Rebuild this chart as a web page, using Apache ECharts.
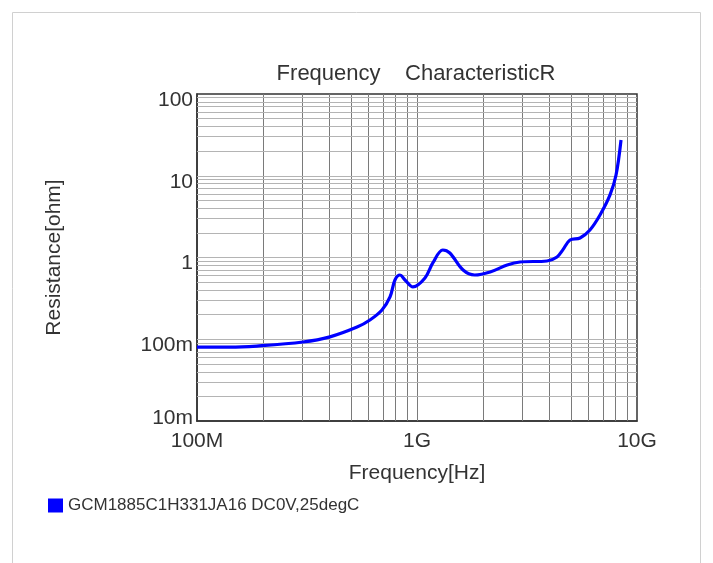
<!DOCTYPE html>
<html>
<head>
<meta charset="utf-8">
<script src="https://cdn.jsdelivr.net/npm/echarts@6/dist/echarts.min.js"></script>
<style>
html,body{margin:0;padding:0;background:#fff;}
#c{width:713px;height:563px;}
</style>
</head>
<body>
<div id="c"></div>
<script>
// Data
var freqHz = [1.0e8, 1.41e8, 1.87e8, 3.03e8, 4.02e8, 5.34e8, 6.11e8, 6.93e8, 7.54e8, 7.94e8, 8.37e8, 8.82e8, 9.59e8, 1.087e9, 1.18e9, 1.31e9, 1.41e9, 1.62e9, 1.83e9, 2.15e9, 2.57e9, 2.94e9, 3.90e9, 4.33e9, 4.60e9, 4.96e9, 5.51e9, 6.11e9, 6.79e9, 7.54e9, 8.03e9, 8.46e9];
var resOhm = [0.080, 0.080, 0.0826, 0.0925, 0.107, 0.141, 0.172, 0.228, 0.329, 0.531, 0.611, 0.531, 0.436, 0.561, 0.857, 1.236, 1.135, 0.703, 0.611, 0.665, 0.809, 0.881, 0.906, 1.014, 1.24, 1.637, 1.733, 2.17, 3.31, 5.82, 10.2, 27.4];
var xTickLabels = {'100000000': '100M', '1000000000': '1G', '10000000000': '10G'};
var yTickLabels = {'0.01': '10m', '0.1': '100m', '1': '1', '10': '10', '100': '100'};
var xGridValues = [2e8,3e8,4e8,5e8,6e8,7e8,8e8,9e8,1e9,2e9,3e9,4e9,5e9,6e9,7e9,8e9,9e9];
var yGridValues = [0.02,0.03,0.04,0.05,0.06,0.07,0.08,0.09,0.1,0.2,0.3,0.4,0.5,0.6,0.7,0.8,0.9,1,2,3,4,5,6,7,8,9,10,20,30,40,50,60,70,80,90];
var seriesName = 'GCM1885C1H331JA16 DC0V,25degC';
var titleText = 'Frequency    CharacteristicR';

var pts = freqHz.map(function (f, i) { return [f, resOhm[i]]; });
var FONT = 'Liberation Sans, Arial, sans-serif';

var chart = echarts.init(document.getElementById('c'), null, {renderer: 'canvas'});
var markData = [];
xGridValues.forEach(function (v) { markData.push({xAxis: v, lineStyle: {color: '#7a7a7a', width: 1, type: 'solid'}}); });
yGridValues.forEach(function (v) { markData.push({yAxis: v, lineStyle: {color: '#b4b4b4', width: 1, type: 'solid'}}); });

chart.setOption({
  animation: false,
  backgroundColor: '#ffffff',
  textStyle: {fontFamily: FONT},
  graphic: [
    {type: 'rect', shape: {x: 12.5, y: 12.5, width: 688, height: 620}, style: {fill: 'none', stroke: '#d0d0d0', lineWidth: 1}, silent: true, z: -10},
    {type: 'text', x: 416, y: 63, style: {text: titleText, fill: '#333', font: '22px ' + FONT, textAlign: 'center', textVerticalAlign: 'top'}}
  ],
  legend: {
    left: 43, top: 492, icon: 'rect', itemWidth: 15, itemHeight: 14, itemGap: 4,
    textStyle: {color: '#333', fontSize: 17, fontFamily: FONT},
    data: [seriesName]
  },
  grid: {left: 197, top: 94, width: 440, height: 327, show: true, borderColor: '#333', borderWidth: 1.5, backgroundColor: '#fff'},
  xAxis: {
    type: 'log', logBase: 10, min: 1e8, max: 1e10,
    name: 'Frequency[Hz]', nameLocation: 'middle', nameGap: 42,
    nameTextStyle: {color: '#333', fontSize: 21, fontFamily: FONT},
    axisLine: {show: true, lineStyle: {color: '#333', width: 1.5}},
    axisTick: {show: false},
    splitLine: {show: false},
    axisLabel: {color: '#333', fontSize: 21, fontFamily: FONT, margin: 10,
      formatter: function (v) { var k = String(Math.round(v)); return xTickLabels[k] !== undefined ? xTickLabels[k] : ''; }}
  },
  yAxis: {
    type: 'log', logBase: 10, min: 0.01, max: 100,
    name: 'Resistance[ohm]', nameLocation: 'middle', nameGap: 132, nameRotate: 90,
    nameTextStyle: {color: '#333', fontSize: 21, fontFamily: FONT},
    axisLine: {show: true, lineStyle: {color: '#333', width: 1.5}},
    axisTick: {show: false},
    splitLine: {show: false},
    axisLabel: {color: '#333', fontSize: 21, fontFamily: FONT, margin: 4,
      formatter: function (v) {
        var k = String(parseFloat(v.toPrecision(3)));
        var t = yTickLabels[k];
        if (t === undefined) return '';
        return k === '0.01' ? '{l|' + t + '}' : '{n|' + t + '}';
      },
      rich: {
        n: {fontSize: 21, color: '#333', fontFamily: FONT, padding: [12, 0, 0, 0]},
        l: {fontSize: 21, color: '#333', fontFamily: FONT, padding: [0, 0, 6, 0]}
      }
    }
  },
  series: [
    {
      type: 'line', name: '__grid', data: [], z: 1, silent: true,
      markLine: {silent: true, symbol: ['none', 'none'], label: {show: false}, animation: false, data: markData}
    },
    {
      type: 'line', name: seriesName, data: pts, z: 5,
      smooth: 0.35, showSymbol: false, symbol: 'none',
      itemStyle: {color: '#0000ff'},
      lineStyle: {color: '#0000ff', width: 3.2}
    }
  ]
});
</script>
</body>
</html>
